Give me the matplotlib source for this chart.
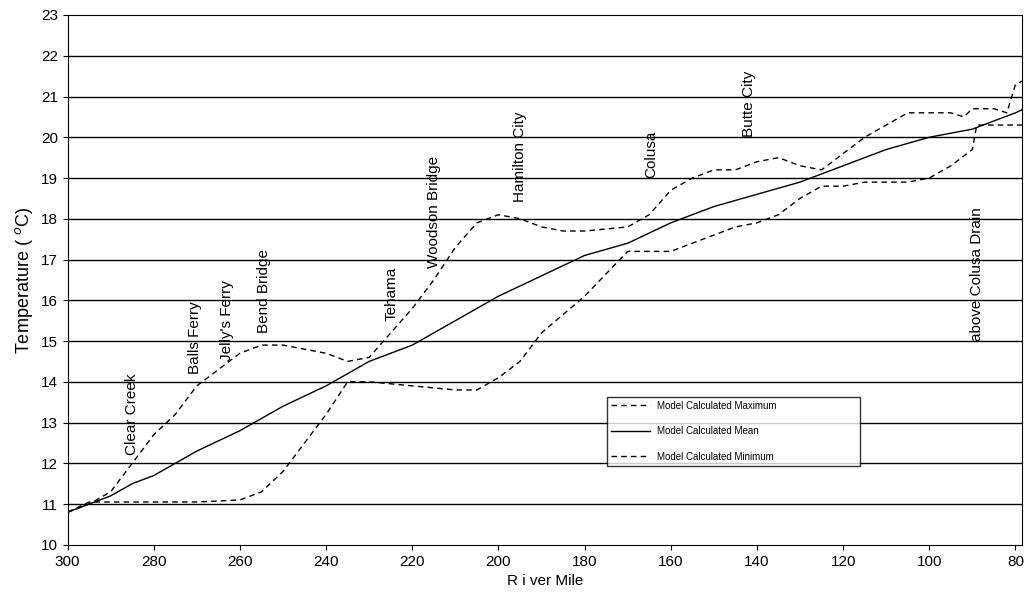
import matplotlib
matplotlib.use("Agg")
import matplotlib.pyplot as plt

plt.rcParams['font.family'] = ['Liberation Sans', 'DejaVu Sans']

mean_x = [300,295,290,285,280,275,270,260,250,240,230,220,210,200,190,180,170,160,150,140,130,120,110,100,90,85,80,78]
mean_y = [10.8,11.0,11.2,11.5,11.7,12.0,12.3,12.8,13.4,13.9,14.5,14.9,15.5,16.1,16.6,17.1,17.4,17.9,18.3,18.6,18.9,19.3,19.7,20.0,20.2,20.4,20.6,20.7]
max_x = [300,295,290,285,280,275,270,265,260,255,250,245,240,235,230,225,220,215,210,205,200,195,190,185,180,170,165,160,155,150,145,140,135,130,125,120,115,110,105,100,95,92,90,85,82,80,78]
max_y = [10.8,11.0,11.3,12.0,12.7,13.2,13.9,14.3,14.7,14.9,14.9,14.8,14.7,14.5,14.6,15.2,15.8,16.5,17.3,17.9,18.1,18.0,17.8,17.7,17.7,17.8,18.1,18.7,19.0,19.2,19.2,19.4,19.5,19.3,19.2,19.6,20.0,20.3,20.6,20.6,20.6,20.5,20.7,20.7,20.6,21.3,21.4]
min_x = [300,295,290,280,270,260,255,250,245,240,235,230,220,210,205,200,195,190,180,170,165,160,155,150,145,140,135,130,125,120,115,110,105,100,95,90,89,85,80,78]
min_y = [10.8,11.05,11.05,11.05,11.05,11.1,11.3,11.8,12.5,13.2,14.0,14.0,13.9,13.8,13.8,14.1,14.5,15.2,16.1,17.2,17.2,17.2,17.4,17.6,17.8,17.9,18.1,18.5,18.8,18.8,18.9,18.9,18.9,19.0,19.3,19.7,20.3,20.3,20.3,20.3]

sites = ["Clear Creek","Balls Ferry","Jelly's Ferry","Bend Bridge","Tehama","Woodson Bridge","Hamilton City","Colusa","Butte City","above Colusa Drain"]
site_x = [285,270.5,263,254.5,224.7,215,195,164.6,141.8,89]
site_y = [12.2,14.2,14.5,15.2,15.5,16.8,18.4,19.0,20.0,15.0]

fig = plt.figure(figsize=(10.24,6.0), dpi=100)
ax = fig.add_axes([0.066,0.092,0.932,0.883])
for t in range(11,23):
    ax.axhline(t, color='black', lw=1)
ax.plot(max_x, max_y, 'k--', lw=1, dashes=(4,3), label='Model Calculated Maximum')
ax.plot(mean_x, mean_y, 'k-', lw=1, label='Model Calculated Mean')
ax.plot(min_x, min_y, 'k--', lw=1, dashes=(4,3), label='Model Calculated Minimum')
for s,x,y in zip(sites,site_x,site_y):
    ax.text(x,y,s,rotation=90,ha='center',va='bottom',fontsize=11)
ax.set_xlim(300,78.5)
ax.set_ylim(10,23)
ax.set_xticks(range(300,79,-20))
ax.set_yticks(range(10,24))
ax.tick_params(labelsize=11)
ax.set_xlabel('R i ver Mile', fontsize=11)
ax.set_ylabel('Temperature ( $^o$C)', fontsize=13)
leg = ax.legend(loc='lower left', bbox_to_anchor=(0.56,0.14,0.275,0.2), mode='expand',
                fontsize=7, frameon=True, fancybox=False, edgecolor='black',
                labelspacing=1.6, handlelength=4)
leg.get_frame().set_linewidth(1)
fig.savefig('out.png')
